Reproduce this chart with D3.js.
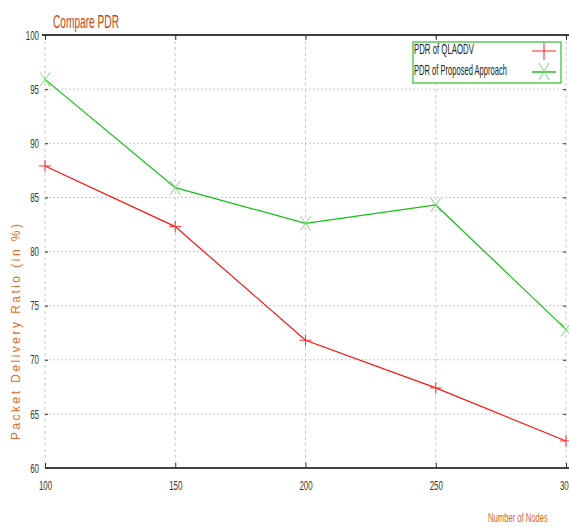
<!doctype html>
<html>
<head>
<style>
  body { margin: 0; background: #fff; }
  svg { display: block; }
  text { font-family: 'Liberation Sans', sans-serif; }
  .tick text { font-size: 13px; fill: #333; }
  .grid line { stroke: #c8c8c8; stroke-width: 1; }
</style>
<script src="https://d3js.org/d3.v7.min.js"></script>
</head>
<body>
<svg width="569" height="527"></svg>
<script>
  const nodes = [100, 150, 200, 250, 300];
  const pdrQlaodv = [87.9, 82.3, 71.8, 67.4, 62.5];
  const pdrProposed = [95.9, 85.9, 82.6, 84.3, 72.8];
  const yTicks = [60, 65, 70, 75, 80, 85, 90, 95, 100];

  const svg = d3.select('svg');
  const pLeft = 45, pRight = 566, pTop = 35, pBottom = 468;

  const x = d3.scaleLinear().domain([100, 300]).range([pLeft, pRight]);
  const y = d3.scaleLinear().domain([60, 100]).range([pBottom, pTop]);

  // squeeze tick text to look like the narrow font of the original
  function squeeze(sel, perChar) {
    sel.each(function () {
      const t = d3.select(this);
      t.attr('textLength', t.text().length * perChar).attr('lengthAdjust', 'spacingAndGlyphs');
    });
  }

  // narrow label: scale a text horizontally so it is `w` px wide
  function narrowText(px, py, w, size, color, str) {
    const g = svg.append('g');
    const t = g.append('text').attr('font-size', size).attr('fill', color).text(str);
    const sx = w / t.node().getComputedTextLength();
    g.attr('transform', `translate(${px},${py}) scale(${sx},1)`);
    return t;
  }

  // grid
  const grid = svg.append('g').attr('class', 'grid');
  grid.selectAll('.vx').data(nodes).enter().append('line')
    .attr('x1', d => x(d)).attr('x2', d => x(d))
    .attr('y1', pTop).attr('y2', pBottom)
    .attr('stroke-dasharray', '3 3');
  grid.selectAll('.hy').data(yTicks.slice(1, -1)).enter().append('line')
    .attr('x1', pLeft).attr('x2', pRight)
    .attr('y1', d => y(d)).attr('y2', d => y(d))
    .attr('stroke-dasharray', '2 2');

  // frame top/bottom
  svg.append('line').attr('x1', pLeft - 3).attr('x2', pRight + 3)
    .attr('y1', pTop).attr('y2', pTop).attr('stroke', '#000').attr('stroke-width', 1.5);
  svg.append('line').attr('x1', pLeft).attr('x2', pRight + 3)
    .attr('y1', pBottom).attr('y2', pBottom).attr('stroke', '#444').attr('stroke-width', 2);

  // axes
  const xAxis = svg.append('g').attr('transform', `translate(0,${pBottom})`)
    .call(d3.axisBottom(x).tickValues(nodes).tickSize(-5).tickPadding(13).tickFormat(d3.format('d')));
  xAxis.select('.domain').remove();
  xAxis.selectAll('line').attr('stroke', '#333');
  squeeze(xAxis.selectAll('text'), 4.4);

  const xTop = svg.append('g').attr('transform', `translate(0,${pTop})`)
    .call(d3.axisTop(x).tickValues(nodes).tickSize(-5).tickFormat(''));
  xTop.select('.domain').remove();
  xTop.selectAll('line').attr('stroke', '#333');

  const yAxis = svg.append('g').attr('transform', `translate(${pLeft},0)`)
    .call(d3.axisLeft(y).tickValues(yTicks).tickSize(-3).tickPadding(6));
  yAxis.select('.domain').remove();
  yAxis.selectAll('line').attr('stroke', '#333');
  squeeze(yAxis.selectAll('text'), 4.4);

  const yRight = svg.append('g').attr('transform', `translate(${pRight},0)`)
    .call(d3.axisRight(y).tickValues(yTicks).tickSize(-3).tickFormat(''));
  yRight.select('.domain').remove();
  yRight.selectAll('line').attr('stroke', '#333');

  // lines
  const line = d3.line().x(d => x(d[0])).y(d => y(d[1]));
  const redData = nodes.map((n, i) => [n, pdrQlaodv[i]]);
  const greenData = nodes.map((n, i) => [n, pdrProposed[i]]);

  svg.append('path').datum(redData).attr('d', line)
    .attr('fill', 'none').attr('stroke', '#ff1111').attr('stroke-width', 1.2);
  svg.append('path').datum(greenData).attr('d', line)
    .attr('fill', 'none').attr('stroke', '#11c011').attr('stroke-width', 1.2);

  const m = 6;
  svg.selectAll('.plus').data(redData).enter().append('path')
    .attr('d', d => `M${x(d[0]) - m},${y(d[1])}H${x(d[0]) + m}M${x(d[0])},${y(d[1]) - m}V${y(d[1]) + m}`)
    .attr('stroke', '#ff3333').attr('stroke-width', 1);
  svg.selectAll('.cross').data(greenData).enter().append('path')
    .attr('d', d => `M${x(d[0]) - 5},${y(d[1]) - 7}L${x(d[0]) + 5},${y(d[1]) + 7}M${x(d[0]) + 5},${y(d[1]) - 7}L${x(d[0]) - 5},${y(d[1]) + 7}`)
    .attr('stroke', '#77dd77').attr('stroke-width', 1);

  // legend
  svg.append('rect').attr('x', 413).attr('y', 42).attr('width', 148).attr('height', 41)
    .attr('fill', '#fff').attr('stroke', '#55cc55').attr('stroke-width', 1.5);
  narrowText(414, 54, 60, 14, '#222', 'PDR of QLAODV');
  narrowText(414, 75, 93, 14, '#222', 'PDR of Proposed Approach');
  svg.append('line').attr('x1', 532).attr('x2', 556).attr('y1', 51).attr('y2', 51)
    .attr('stroke', '#ff2222');
  svg.append('line').attr('x1', 544).attr('x2', 544).attr('y1', 43).attr('y2', 60)
    .attr('stroke', '#ff2222');
  svg.append('line').attr('x1', 532).attr('x2', 556).attr('y1', 72).attr('y2', 72)
    .attr('stroke', '#22bb22').attr('stroke-width', 1.5);
  svg.append('path').attr('d', 'M539,63L549,80M549,63L539,80')
    .attr('stroke', '#77dd77');

  // titles
  narrowText(53, 28, 66, 18, '#cc4411', 'Compare PDR');
  narrowText(488, 522, 60, 13, '#dd6622', 'Number of Nodes');
  svg.append('text').attr('transform', 'translate(20,332) rotate(-90)')
    .attr('text-anchor', 'middle').attr('font-size', 12)
    .attr('textLength', 216).attr('lengthAdjust', 'spacing')
    .attr('fill', '#e06a2a').text('Packet Delivery Ratio (in %)');
</script>
</body>
</html>
